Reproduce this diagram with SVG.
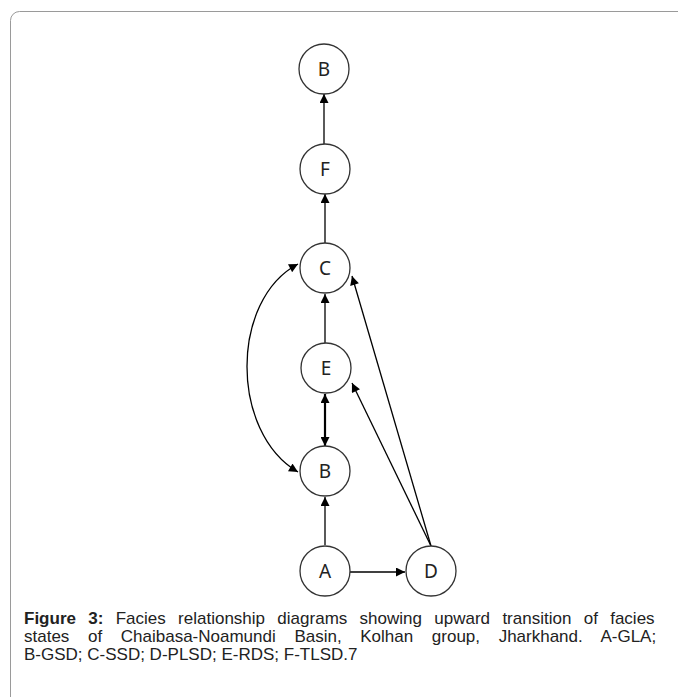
<svg xmlns="http://www.w3.org/2000/svg" width="678" height="697" viewBox="0 0 678 697">
  <defs>
    <marker id="arrow" viewBox="0 0 10 10" refX="10" refY="5" markerWidth="10" markerHeight="9" markerUnits="userSpaceOnUse" orient="auto-start-reverse">
      <path d="M0,0 L10,5 L0,10 z" fill="#000"/>
    </marker>
  </defs>
  <style>
    .node circle { fill: #fff; stroke: #333; stroke-width: 1.3; }
    .node text { font-family: "Noto Sans", "Liberation Sans", sans-serif; font-size: 19px; fill: #222; text-anchor: middle; }
    .edge { fill: none; stroke: #000; stroke-width: 1.3; }
    .thick { stroke-width: 2.2; }
    .caption { font-family: "Liberation Sans", Arial, sans-serif; font-size: 17px; fill: #222; }
  </style>

  <!-- card frame -->
  <rect x="10.5" y="11.5" width="700" height="720" rx="9" fill="#fff" stroke="#9a9a9a" stroke-width="1"/>

  <g id="connectors">
    <line class="edge" x1="324" y1="144" x2="324" y2="94" marker-end="url(#arrow)"/>
    <line class="edge" x1="325" y1="243" x2="325" y2="194" marker-end="url(#arrow)"/>
    <line class="edge" x1="325" y1="343" x2="325" y2="294" marker-end="url(#arrow)"/>
    <line class="edge thick" x1="325" y1="394" x2="325" y2="446" marker-start="url(#arrow)" marker-end="url(#arrow)"/>
    <line class="edge" x1="325" y1="545" x2="325" y2="497" marker-end="url(#arrow)"/>
    <line class="edge" x1="350" y1="572" x2="405" y2="572" marker-end="url(#arrow)"/>
    <line class="edge" x1="431" y1="546" x2="352" y2="276" marker-end="url(#arrow)"/>
    <line class="edge" x1="431" y1="546" x2="352" y2="383" marker-end="url(#arrow)"/>
    <path class="edge" d="M298,264 C230,300 230,432 298,472" marker-start="url(#arrow)" marker-end="url(#arrow)"/>
  </g>

  <g id="node-B-top" class="node">
    <circle cx="324" cy="69" r="25"/>
    <text x="324" y="76">B</text>
  </g>
  <g id="node-F" class="node">
    <circle cx="325" cy="169" r="25"/>
    <text x="325" y="176">F</text>
  </g>
  <g id="node-C" class="node">
    <circle cx="325" cy="268" r="25"/>
    <text x="325" y="275">C</text>
  </g>
  <g id="node-E" class="node">
    <circle cx="326" cy="368" r="25"/>
    <text x="326" y="375">E</text>
  </g>
  <g id="node-B" class="node">
    <circle cx="325" cy="471" r="25"/>
    <text x="325" y="478">B</text>
  </g>
  <g id="node-A" class="node">
    <circle cx="325" cy="571" r="25"/>
    <text x="325" y="578">A</text>
  </g>
  <g id="node-D" class="node">
    <circle cx="431" cy="571" r="25"/>
    <text x="431" y="578">D</text>
  </g>

  <!-- justified caption: extra word spacing on the first two lines -->
  <g id="caption">
    <text class="caption" x="24" y="624" word-spacing="7.6"><tspan font-weight="bold">Figure 3:</tspan> Facies relationship diagrams showing upward transition of facies</text>
    <text class="caption" x="24" y="642" word-spacing="13.9">states of Chaibasa-Noamundi Basin, Kolhan group, Jharkhand. A-GLA;</text>
    <text class="caption" x="24" y="660">B-GSD; C-SSD; D-PLSD; E-RDS; F-TLSD.7</text>
  </g>
</svg>
